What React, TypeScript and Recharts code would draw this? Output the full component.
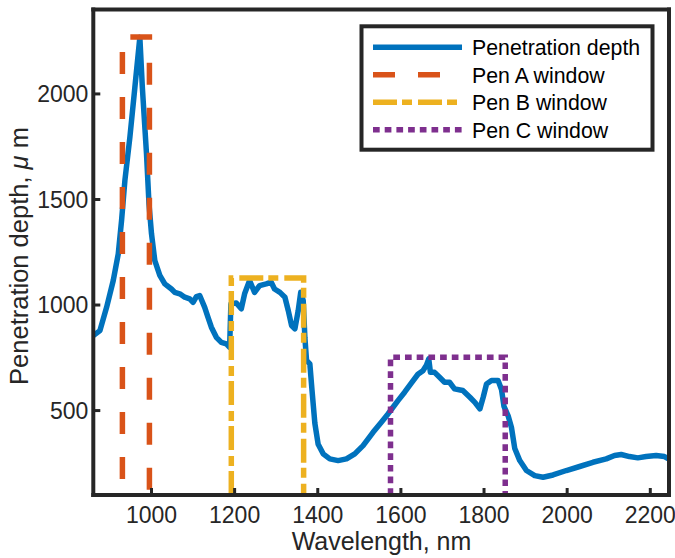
import React from 'react';
import { LineChart, Line, XAxis, YAxis, Legend, Label } from 'recharts';

// Penetration depth curve
const wavelength = [
  860, 876, 892, 908, 920, 928, 936, 948, 960, 972, 978, 988, 994, 1000, 1008, 1020, 1032, 1048, 1056, 1068,
  1080, 1092, 1100, 1108, 1116, 1128, 1136, 1144, 1156, 1168, 1180, 1188, 1191, 1204, 1216, 1224, 1236, 1248,
  1260, 1276, 1288, 1296, 1309, 1321, 1329, 1337, 1345, 1353, 1359, 1365, 1369, 1373, 1381, 1386, 1393, 1401,
  1413, 1429, 1449, 1469, 1489, 1509, 1533, 1553, 1569, 1577, 1593, 1609, 1625, 1641, 1653, 1661, 1667, 1671,
  1681, 1693, 1705, 1717, 1729, 1749, 1766, 1778, 1790, 1798, 1806, 1818, 1834, 1842, 1848, 1858, 1866, 1874,
  1886, 1902, 1922, 1942, 1966, 1998, 2030, 2062, 2094, 2114, 2130, 2150, 2170, 2190, 2214, 2234, 2245,
];
const depth = [
  855, 879, 989, 1116, 1242, 1400, 1590, 1795, 2031, 2268, 2031, 1716, 1479, 1338, 1210, 1140, 1100, 1076, 1060, 1053,
  1037, 1029, 1013, 1040, 1045, 989, 942, 895, 847, 823, 816, 800, 1005, 1010, 982, 1053, 1116, 1060,
  1092, 1100, 1108, 1076, 1060, 1037, 974, 903, 887, 974, 1060, 1021, 847, 737, 721, 600, 440, 340,
  295, 271, 263, 271, 295, 334, 397, 445, 484, 505, 547, 587, 630, 672, 689, 713, 745, 681,
  681, 658, 634, 634, 603, 595, 563, 539, 508, 563, 626, 642, 642, 600, 520, 475, 420, 320,
  263, 216, 192, 184, 195, 216, 235, 255, 271, 287, 292, 282, 276, 282, 287, 282, 270,
];

// Windows
const penAX = [930, 930, 995, 995];
const penAY = [100, 2270, 2270, 100];
const penBX = [1192, 1192, 1366, 1366];
const penBY = [100, 1128, 1128, 100];
const penCX = [1575, 1575, 1851, 1851];
const penCY = [100, 752, 752, 100];

const xTicks = [1000, 1200, 1400, 1600, 1800, 2000, 2200];
const yTicks = [500, 1000, 1500, 2000];
const xDomain = [860, 2245];
const yDomain = [100, 2400];

const legendLabels = ['Penetration depth', 'Pen A window', 'Pen B window', 'Pen C window'];

const toPts = (xs: number[], ys: number[]) => xs.map((x, i) => ({ x, y: ys[i] }));

const penData = toPts(wavelength, depth);
const penA = toPts(penAX, penAY);
const penB = toPts(penBX, penBY);
const penC = toPts(penCX, penCY);

const INK = '#262626';
const BLUE = '#0072BD';
const RED = '#D95319';
const YEL = '#EDB120';
const PUR = '#7E2F8E';
const FONT = '"Liberation Sans", Arial, Helvetica, sans-serif';
const LW = 5.5;

const styles = [
  { color: BLUE, dash: undefined as string | undefined },
  { color: RED, dash: '22 23' },
  { color: YEL, dash: '24 5 10 6' },
  { color: PUR, dash: '6.7 5' },
];

const LegendBox = () => (
  <svg width={296} height={128} style={{ display: 'block' }}>
    <rect x={2.5} y={2.3} width={291} height={123.4} fill="#fff" stroke={INK} strokeWidth={4} />
    {legendLabels.map((lab, i) => {
      const y = 23.2 + 27.5 * i;
      return (
        <g key={lab}>
          <line x1={14} x2={103} y1={y} y2={y} stroke={styles[i].color} strokeWidth={LW}
            strokeDasharray={styles[i].dash} />
          <text x={113} y={y + 7.8} fontSize={21.3} fill="#000" fontFamily={FONT}>{lab}</text>
        </g>
      );
    })}
  </svg>
);

const axisLine = { stroke: INK, strokeWidth: 4, strokeLinecap: 'square' as const };
const tickLine = { stroke: INK, strokeWidth: 3 };
const tickStyle = { fill: INK, fontSize: 23, fontFamily: FONT };

export default function App() {
  return (
    <div style={{ position: 'absolute', left: 0, top: 0, width: 675, height: 558, background: '#fff' }}>
      <LineChart width={675} height={558} margin={{ top: 8.5, right: 5, bottom: 0, left: 0 }}>
        <XAxis dataKey="x" type="number" domain={xDomain} ticks={xTicks} interval={0} allowDataOverflow
          height={63} axisLine={axisLine} tickLine={tickLine} tickSize={-7} tickMargin={19} tick={tickStyle}>
          <Label content={() => (
            <text x={381.5} y={550} textAnchor="middle" fontSize={25} fill={INK} fontFamily={FONT}>Wavelength, nm</text>
          )} />
        </XAxis>
        <XAxis xAxisId="top" orientation="top" type="number" domain={xDomain} ticks={xTicks} interval={0}
          allowDataOverflow height={1} axisLine={axisLine} tickLine={tickLine} tickSize={-7} tick={false} />
        <YAxis type="number" domain={yDomain} ticks={yTicks} interval={0} allowDataOverflow width={93.3}
          axisLine={axisLine} tickLine={tickLine} tickSize={-7} tickMargin={12} tick={tickStyle}>
          <Label content={() => (
            <text x={28} y={256} transform="rotate(-90 28 256)" textAnchor="middle" fontSize={25.5} fill={INK}
              fontFamily={FONT}>
              Penetration depth, <tspan fontStyle="italic">μ</tspan> m
            </text>
          )} />
        </YAxis>
        <YAxis yAxisId="right" orientation="right" type="number" domain={yDomain} ticks={yTicks} interval={0}
          allowDataOverflow width={1} axisLine={axisLine} tickLine={tickLine} tickSize={-7} tick={false} />
        <Line data={penData} dataKey="y" type="linear" stroke={BLUE} strokeWidth={LW} dot={false}
          strokeLinejoin="round" isAnimationActive={false} />
        <Line data={penA} dataKey="y" type="linear" stroke={RED} strokeWidth={LW} dot={false}
          strokeDasharray="22 23" strokeDashoffset={29} isAnimationActive={false} />
        <Line data={penB} dataKey="y" type="linear" stroke={YEL} strokeWidth={LW} dot={false}
          strokeDasharray="24 5 10 6" isAnimationActive={false} />
        <Line data={penC} dataKey="y" type="linear" stroke={PUR} strokeWidth={LW} dot={false}
          strokeDasharray="6.7 5" isAnimationActive={false} />
        <Legend layout="vertical" align="center" verticalAlign="middle"
          wrapperStyle={{ left: 359, top: 23.5, width: 296, height: 128 }} content={() => <LegendBox />} />
      </LineChart>
    </div>
  );
}
